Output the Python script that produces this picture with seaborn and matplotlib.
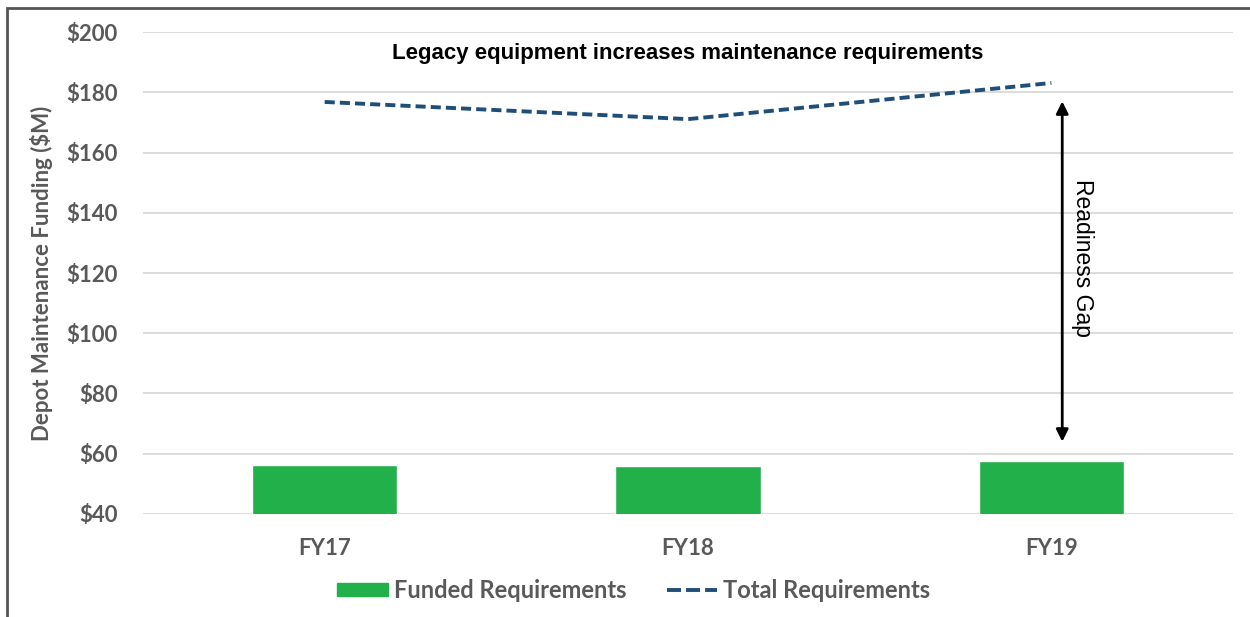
import pandas as pd
import numpy as np
import matplotlib.pyplot as plt
import matplotlib.patches as mpatches
from matplotlib.lines import Line2D
import seaborn as sb

#values ($M)
years = ["FY17", "FY18", "FY19"]
funded = [56.3, 56.0, 57.6]
total = [176.8, 171.1, 183.1]
yticks = [40, 60, 80, 100, 120, 140, 160, 180, 200]

green = "#22B04B"
navy = "#1F4E79"
grey = "#595959"

sb.set_style("white")
plt.rcParams['font.family'] = ['Lato', 'DejaVu Sans']

data = pd.DataFrame({"Year": years, "Funded": funded, "Total": total})

fig = plt.figure(figsize=(12.5, 6.17), dpi=100)
ax = fig.add_axes([0.1144, 0.167, 0.872, 0.781])

sb.barplot(data=data, x="Year", y="Funded", color=green, width=0.4, saturation=1, ax=ax, zorder=3)
sb.lineplot(data=data, x="Year", y="Total", color=navy, linewidth=2.8, linestyle=(0, (2.6, 1.3)), ax=ax, zorder=4)

ax.set_ylim(40, 200)
ax.set_xlim(-0.5, 2.5)
ax.set_yticks(yticks)
ax.set_yticklabels(["$" + str(v) for v in yticks])
ax.yaxis.grid(True, color="#D9D9D9", linewidth=1.3, zorder=0)
ax.set_axisbelow(True)
for s in ax.spines.values():
    s.set_visible(False)
ax.tick_params(length=0, labelsize=16, colors=grey)
ax.tick_params(axis='y', pad=18)
ax.tick_params(axis='x', pad=17)
for lbl in ax.get_xticklabels() + ax.get_yticklabels():
    lbl.set_fontweight("bold")
ax.set_xlabel("")
ax.set_ylabel("Depot Maintenance Funding ($M)", fontsize=16, color=grey, fontweight="bold", labelpad=10)

#annotations
ax.text(1.0, 193, "Legacy equipment increases maintenance requirements", ha="center", va="center",
        fontsize=16, fontweight="bold", color="black", family="Liberation Sans")
ax.annotate("", xy=(2.03, 177), xytext=(2.03, 64),
            arrowprops=dict(arrowstyle="<|-|>", color="black", lw=2, mutation_scale=18, shrinkA=0, shrinkB=0))
ax.text(2.085, 125, "Readiness Gap", rotation=-90, ha="center", va="center",
        fontsize=16.5, color="black", family="Liberation Sans")

#legend below the plot
handles = [mpatches.Patch(color=green, label="Funded Requirements"),
           Line2D([0], [0], color=navy, lw=2.8, linestyle=(0, (3.6, 1.3)), label="Total Requirements")]
leg = fig.legend(handles=handles, loc="center", bbox_to_anchor=(0.507, 0.043), ncol=2, frameon=False,
                 fontsize=17, handlelength=2.15, handleheight=0.5, columnspacing=1.7, handletextpad=0.25)
for t in leg.get_texts():
    t.set_color(grey)
    t.set_fontweight("bold")

#frame around the figure
fig.patches.append(mpatches.Rectangle((0.0056, -0.1), 1.2, 1.087, transform=fig.transFigure,
                                      fill=False, edgecolor="#555555", linewidth=2))

fig.savefig("out.png", dpi=100)
